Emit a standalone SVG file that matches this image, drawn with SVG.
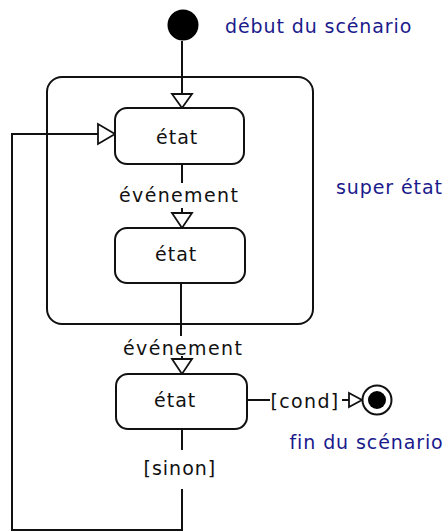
<svg xmlns="http://www.w3.org/2000/svg" width="447" height="531" viewBox="0 0 447 531">
<defs>
<style>
.ln{fill:none;stroke:#111;stroke-width:2}
.st{fill:#fff;stroke:#111;stroke-width:2}
.ah{fill:#fff;stroke:#111;stroke-width:1.8;stroke-linejoin:miter}
.t{font-family:"DejaVu Sans",Verdana,sans-serif;font-size:19px;letter-spacing:1px;fill:#111}
.w{letter-spacing:1.35px}
.b{font-family:"DejaVu Sans",Verdana,sans-serif;font-size:19px;letter-spacing:0.9px;fill:#1a1a8c}
</style>
</defs>
<rect width="447" height="531" fill="#fff"/>
<g id="super-etat">
<rect class="st" x="47" y="77" width="266" height="247" rx="15" ry="15"/>
<text class="b" x="336" y="194">super état</text>
</g>
<g id="connectors">
<path class="ln" d="M182,41 V94"/>
<polygon class="ah" points="172,94 192,94 182,108"/>
<path class="ln" d="M182,164 V183"/>
<text class="t w" x="119" y="202">événement</text>
<path class="ln" d="M182,208 V212"/>
<polygon class="ah" points="172,213 192,213 182,228"/>
<path class="ln" d="M181,283 V336"/>
<text class="t w" x="123" y="355">événement</text>
<path class="ln" d="M182,356 V359"/>
<polygon class="ah" points="172,359 192,359 182,374"/>
<path class="ln" d="M247,400 H270"/>
<text class="t w" x="270.5" y="408">[cond]</text>
<path class="ln" d="M342,400 H349"/>
<polygon class="ah" points="349,393 349,407 362,400"/>
<path class="ln" d="M182,429 V450"/>
<text class="t" x="143.5" y="475">[sinon]</text>
<path class="ln" d="M182,489 V530 H12 V134 H98"/>
<polygon class="ah" points="98,124 98,144 115,134"/>
</g>
<g id="debut">
<circle cx="183" cy="25" r="15.5" fill="#000"/>
<text class="b" x="225" y="33">début du scénario</text>
</g>
<g id="etat1">
<rect class="st" x="115" y="108" width="129" height="56" rx="12" ry="12"/>
<text class="t" x="156" y="144">état</text>
</g>
<g id="etat2">
<rect class="st" x="115" y="228" width="130" height="55" rx="12" ry="12"/>
<text class="t" x="155" y="261">état</text>
</g>
<g id="etat3">
<rect class="st" x="116" y="374" width="131" height="55" rx="12" ry="12"/>
<text class="t" x="154" y="407">état</text>
</g>
<g id="fin">
<circle cx="377" cy="400" r="14.5" fill="#fff" stroke="#111" stroke-width="2"/>
<circle cx="377" cy="400" r="9" fill="#000"/>
<text class="b" x="289.5" y="449">fin du scénario</text>
</g>
</svg>
